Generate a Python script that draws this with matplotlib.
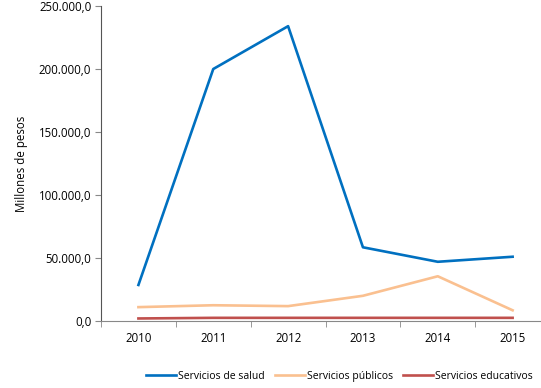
import matplotlib
matplotlib.use("Agg")
import matplotlib.pyplot as plt
import numpy as np

# Data
years = ["2010", "2011", "2012", "2013", "2014", "2015"]
salud = [28600, 200000, 234000, 58500, 47000, 51000]
publicos = [11000, 12500, 11800, 20000, 35500, 8500]
educativos = [2000, 2500, 2500, 2500, 2500, 2500]

yticks = [0, 50000, 100000, 150000, 200000, 250000]
ytick_labels = ["0,0", "50.000,0", "100.000,0", "150.000,0", "200.000,0", "250.000,0"]

plt.rcParams["font.family"] = ["Open Sans", "DejaVu Sans"]

fig = plt.figure(figsize=(5.41, 3.88), dpi=100)
ax = fig.add_axes([0.1867, 0.1727, 0.83, 0.8118])

x = np.arange(len(years))
ax.plot(x, salud, color="#0070C0", lw=1.9, label="Servicios de salud")
ax.plot(x, publicos, color="#FAC090", lw=1.9, label="Servicios públicos")
ax.plot(x, educativos, color="#C0504D", lw=1.9, label="Servicios educativos")

ax.set_xlim(-0.5, 5.5)
ax.set_ylim(0, 250000)
ax.set_yticks(yticks)
ax.set_yticklabels(ytick_labels, fontsize=8.3)
ax.set_xticks(x)
ax.set_xticklabels(years, fontsize=8.3)
ax.set_xticks(np.arange(-0.5, 6.0, 1.0), minor=True)
ax.tick_params(axis="x", which="major", length=0, pad=8)
ax.tick_params(axis="x", which="minor", length=4, color="#888888", direction="out")
ax.tick_params(axis="y", length=4, color="#888888", direction="out", pad=3)

for side in ["top", "right"]:
    ax.spines[side].set_visible(False)
ax.spines["left"].set_color("#555555")
ax.spines["bottom"].set_color("#888888")

ax.set_ylabel("Millones de pesos", fontsize=8.3, labelpad=8)

fig.legend(loc="center left", bbox_to_anchor=(0.27, 0.03), ncol=3, frameon=False,
           fontsize=7.5, handlelength=2.9, handletextpad=0.15, columnspacing=1.0,
           borderaxespad=0, borderpad=0)

fig.savefig("out.png", dpi=100)
